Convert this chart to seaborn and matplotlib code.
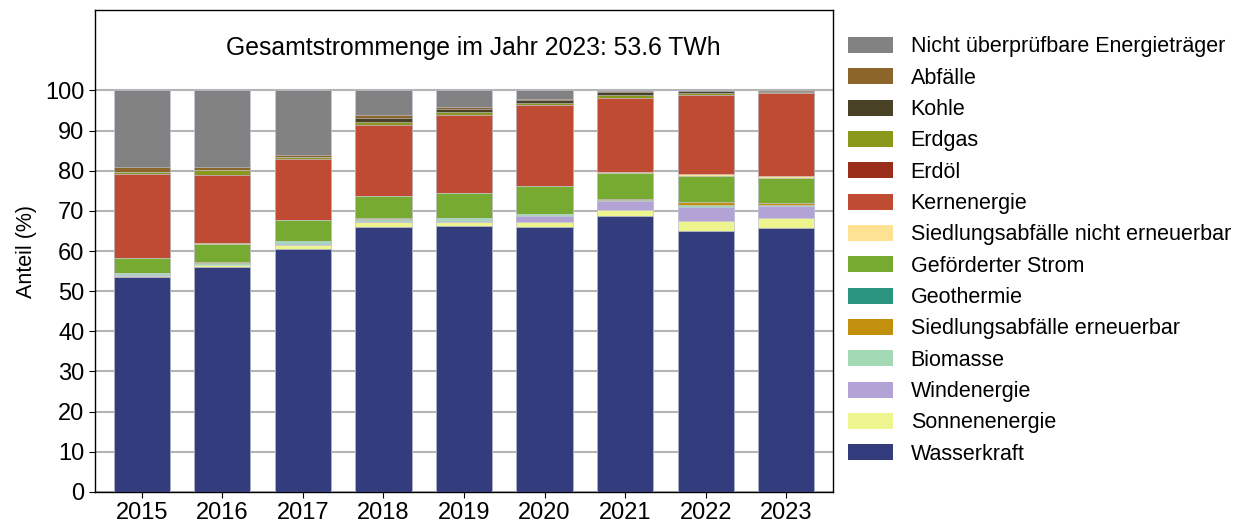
import matplotlib
matplotlib.use("Agg")
import matplotlib.pyplot as plt
from matplotlib.patches import Patch
import numpy as np
import pandas as pd
import seaborn as sns

years = ["2015", "2016", "2017", "2018", "2019", "2020", "2021", "2022", "2023"]

# shares in percent, bottom of the stack first
wasserkraft = [53.5, 55.9, 60.6, 66.1, 66.2, 66.0, 68.7, 64.9, 65.7]
sonnenenergie = [0.3, 0.5, 0.8, 1.0, 1.0, 1.3, 1.6, 2.5, 2.6]
windenergie = [0.2, 0.1, 0.4, 0.3, 0.3, 1.4, 2.1, 3.6, 2.9]
biomasse = [0.5, 0.6, 0.6, 0.6, 0.6, 0.5, 0.4, 0.4, 0.2]
siedl_erneuerbar = [0.1, 0.1, 0.1, 0.1, 0.1, 0.1, 0.1, 0.8, 0.6]
geothermie = [0.0, 0.0, 0.0, 0.2, 0.1, 0.0, 0.0, 0.0, 0.0]
gefoerdert = [3.6, 4.6, 5.2, 5.4, 6.2, 6.9, 6.6, 6.4, 6.2]
siedl_nicht = [0.1, 0.1, 0.0, 0.0, 0.0, 0.0, 0.1, 0.7, 0.4]
kernenergie = [20.8, 17.0, 15.2, 17.6, 19.3, 20.1, 18.5, 19.6, 20.8]
erdoel = [0.0, 0.0, 0.0, 0.0, 0.0, 0.0, 0.0, 0.0, 0.0]
erdgas = [0.6, 1.2, 0.4, 0.7, 0.8, 0.6, 0.8, 0.5, 0.3]
kohle = [0.0, 0.0, 0.0, 1.0, 0.7, 0.6, 0.8, 0.4, 0.2]
abfaelle = [1.1, 0.7, 0.7, 0.8, 0.5, 0.4, 0.2, 0.1, 0.1]
nicht_pruefbar = [19.2, 19.2, 16.0, 6.2, 4.2, 2.1, 0.1, 0.1, 0.0]

series = [
    ("Wasserkraft", wasserkraft, "#333c7c"),
    ("Sonnenenergie", sonnenenergie, "#eef58e"),
    ("Windenergie", windenergie, "#b2a2d6"),
    ("Biomasse", biomasse, "#a3d9b4"),
    ("Siedlungsabfälle erneuerbar", siedl_erneuerbar, "#c28f0e"),
    ("Geothermie", geothermie, "#2b947e"),
    ("Geförderter Strom", gefoerdert, "#76aa30"),
    ("Siedlungsabfälle nicht erneuerbar", siedl_nicht, "#fde293"),
    ("Kernenergie", kernenergie, "#bf4b33"),
    ("Erdöl", erdoel, "#9a2c1a"),
    ("Erdgas", erdgas, "#8a981c"),
    ("Kohle", kohle, "#4a4226"),
    ("Abfälle", abfaelle, "#8c652a"),
    ("Nicht überprüfbare Energieträger", nicht_pruefbar, "#828282"),
]

sns.set_style("ticks")
plt.rcParams["font.family"] = ["Liberation Sans", "DejaVu Sans"]
plt.rcParams["text.color"] = "black"
plt.rcParams["axes.labelcolor"] = "black"
plt.rcParams["xtick.color"] = "black"
plt.rcParams["ytick.color"] = "black"
fs = 15.5

fig = plt.figure(figsize=(12.45, 5.29), dpi=100)
ax = fig.add_axes([0.0763, 0.07, 0.5928, 0.911])

# draw cumulative tops from the highest layer down so each layer covers the next
tops = np.cumsum(np.array([s[1] for s in series]), axis=0)
for (name, vals, color), top in reversed(list(zip(series, tops))):
    df = pd.DataFrame({"Jahr": years, "Anteil": top})
    sns.barplot(data=df, x="Jahr", y="Anteil", color=color, width=0.7,
                edgecolor="#c8cce0", linewidth=0.4, saturation=1, ax=ax, zorder=3)

ax.set_ylim(0, 120)
ax.set_xlim(-0.58, 8.58)
ax.set_yticks(range(0, 101, 10))
ax.yaxis.grid(True, color="#b4b4b4", linewidth=1.5, zorder=0)
ax.set_axisbelow(True)
ax.set_xlabel("")
ax.set_ylabel("Anteil (%)", fontsize=fs, labelpad=6)
ax.tick_params(labelsize=17, length=4)
for sp in ax.spines.values():
    sp.set_color("black")
    sp.set_linewidth(1.0)

ax.text(0.512, 110.6, "Gesamtstrommenge im Jahr 2023: 53.6 TWh",
        transform=ax.get_yaxis_transform(), ha="center", va="center", fontsize=17.8)

handles = [Patch(facecolor=c, edgecolor="none", label=n) for n, v, c in reversed(series)]
ax.legend(handles=handles, loc="upper left", bbox_to_anchor=(1.009, 0.963),
          frameon=False, fontsize=fs, handlelength=2.1, handleheight=0.75,
          labelspacing=0.48, handletextpad=0.8, borderaxespad=0)

fig.savefig("out.png", dpi=100)
